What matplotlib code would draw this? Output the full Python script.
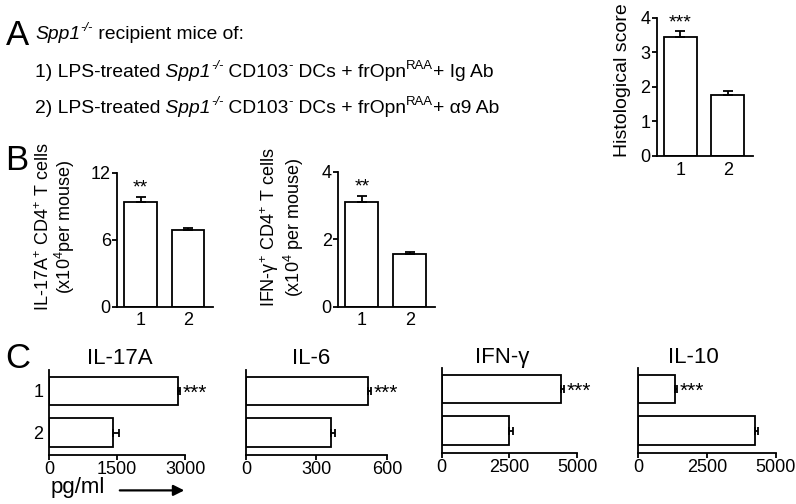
import matplotlib
matplotlib.use("Agg")
import matplotlib.pyplot as plt

output = "out.png"
fz = 13

plt.rcParams['font.family'] = ['Liberation Sans', 'DejaVu Sans']
plt.rcParams['mathtext.fontset'] = 'custom'
plt.rcParams['mathtext.rm'] = 'Liberation Sans'
plt.rcParams['mathtext.it'] = 'Liberation Sans:italic'
plt.rcParams['mathtext.bf'] = 'Liberation Sans:bold'

# data
groups = ['1', '2']

hist_score = [3.45, 1.78]
hist_err = [0.17, 0.10]

il17_cells = [9.4, 6.9]
il17_cells_err = [0.45, 0.15]
ifn_cells = [3.11, 1.57]
ifn_cells_err = [0.18, 0.06]

cyto_names = ['IL-17A', 'IL-6', 'IFN-γ', 'IL-10']
cyto_vals = [[2846, 1412], [519, 362], [4407, 2481], [1340, 4239]]
cyto_errs = [[45, 130], [13, 17], [110, 150], [70, 110]]
cyto_ticks = [[0, 1500, 3000], [0, 300, 600], [0, 2500, 5000], [0, 2500, 5000]]
cyto_stars = ['***', '***', '***', '***']

# (text, italic, superscript)
line1 = [('Spp1', 1, 0), ('-/-', 1, 1), (' recipient mice of:', 0, 0)]
line2 = [('1) LPS-treated', 0, 0), (' Spp1', 1, 0), ('-/-', 1, 1), (' CD103', 0, 0), ('-', 0, 1),
         (' DCs + frOpn', 0, 0), ('RAA', 0, 1), ('+ Ig Ab', 0, 0)]
line3 = [('2) LPS-treated', 0, 0), (' Spp1', 1, 0), ('-/-', 1, 1), (' CD103', 0, 0), ('-', 0, 1),
         (' DCs + frOpn', 0, 0), ('RAA', 0, 1), ('+ α9 Ab', 0, 0)]

lw = 1.3


def rich_line(bg, x, y, pieces, size=13.9):
    t0 = bg.text(x, y, pieces[0][0], fontsize=size, va='bottom', transform=bg.transAxes,
                 style='italic' if pieces[0][1] else 'normal')
    prev = t0
    for s, it, sup in pieces[1:]:
        fs = size
        dy = 0
        if sup:
            fs = size * 0.68
            dy = size * 0.40 + 0.21 * (size - fs)
        prev = bg.annotate(s, xy=(1, 0), xycoords=(prev, t0), xytext=(0, dy),
                           textcoords='offset points', fontsize=fs, va='bottom', ha='left',
                           style='italic' if it else 'normal')


def style_vbar(ax):
    for s in ['top', 'right']:
        ax.spines[s].set_visible(False)
    for s in ['left', 'bottom']:
        ax.spines[s].set_linewidth(lw)
    ax.tick_params(axis='y', length=3.5, width=lw, labelsize=fz, pad=1)
    ax.tick_params(axis='x', length=0, labelsize=fz, pad=4)


def vbars(ax, vals, errs):
    x = range(len(vals))
    ax.bar(x, vals, width=0.69, color='w', edgecolor='k', linewidth=lw)
    ax.errorbar(x, vals, yerr=[[0] * len(errs), errs], fmt='none', ecolor='k',
                elinewidth=lw, capsize=3.6, capthick=lw)
    ax.set_xticks(list(x))
    ax.set_xticklabels(groups)
    ax.set_xlim(-0.5, 1.53)


def draw_a(fig, bg):
    bg.text(0.008, 0.91, 'A', fontsize=25, transform=bg.transAxes)
    rich_line(bg, 0.044, 0.914, line1)
    rich_line(bg, 0.044, 0.839, line2)
    rich_line(bg, 0.044, 0.767, line3)

    ax = fig.add_axes([0.825, 0.6905, 0.1206, 0.274])
    vbars(ax, hist_score, hist_err)
    ax.set_ylim(0, 4)
    ax.set_yticks([0, 1, 2, 3, 4])
    ax.set_ylabel('Histological score', fontsize=14, labelpad=7)
    ax.yaxis.label.set_y(0.55)
    style_vbar(ax)
    ax.annotate('***', (0, hist_score[0] + hist_err[0]), xytext=(0, 0),
                textcoords='offset points', ha='center', va='bottom', fontsize=fz + 1)


def draw_b(fig, bg):
    bg.text(0.006, 0.662, 'B', fontsize=25, transform=bg.transAxes)

    ax = fig.add_axes([0.147, 0.391, 0.1206, 0.266])
    vbars(ax, il17_cells, il17_cells_err)
    ax.set_ylim(0, 12)
    ax.set_yticks([0, 6, 12])
    ax.set_ylabel('IL-17A$^{+}$ CD4$^{+}$ T cells\n(x10$^{4}$per mouse)', fontsize=fz,
                  labelpad=10, linespacing=1.0)
    ax.yaxis.label.set_y(0.6)
    style_vbar(ax)
    ax.annotate('**', (0, il17_cells[0] + il17_cells_err[0]), xytext=(0, 0),
                textcoords='offset points', ha='center', va='bottom', fontsize=fz + 1)

    ax = fig.add_axes([0.4246, 0.391, 0.122, 0.268])
    vbars(ax, ifn_cells, ifn_cells_err)
    ax.set_ylim(0, 4)
    ax.set_yticks([0, 2, 4])
    ax.set_ylabel('IFN-γ$^{+}$ CD4$^{+}$ T cells\n(x10$^{4}$ per mouse)', fontsize=fz,
                  labelpad=11, linespacing=1.05)
    ax.yaxis.label.set_y(0.59)
    style_vbar(ax)
    ax.annotate('**', (0, ifn_cells[0] + ifn_cells_err[0]), xytext=(0, 0),
                textcoords='offset points', ha='center', va='bottom', fontsize=fz + 1)


def draw_c(fig, bg):
    bg.text(0.006, 0.27, 'C', fontsize=25, transform=bg.transAxes)
    rects = [[0.0616, 0.0972, 0.1709, 0.1687],
             [0.309, 0.0972, 0.177, 0.1687],
             [0.555, 0.101, 0.170, 0.1687],
             [0.8015, 0.101, 0.173, 0.1687]]
    title_x = [0.52, 0.46, 0.45, 0.40]
    for i in range(4):
        ax = fig.add_axes(rects[i])
        y = range(2)
        ax.barh(y, cyto_vals[i], height=0.68, color='w', edgecolor='k', linewidth=lw)
        ax.errorbar(cyto_vals[i], y, xerr=[[0, 0], cyto_errs[i]], fmt='none', ecolor='k',
                    elinewidth=lw, capsize=3.2, capthick=lw)
        ax.set_ylim(1.54, -0.5)
        ax.set_xlim(cyto_ticks[i][0], cyto_ticks[i][-1])
        ax.set_xticks(cyto_ticks[i])
        ax.set_yticks(list(y))
        if i == 0:
            ax.set_yticklabels(groups)
        else:
            ax.set_yticklabels([])
        for s in ['top', 'right']:
            ax.spines[s].set_visible(False)
        for s in ['left', 'bottom']:
            ax.spines[s].set_linewidth(lw)
        ax.tick_params(axis='x', length=3.5, width=lw, labelsize=fz, pad=1)
        ax.tick_params(axis='y', length=0, labelsize=fz, pad=4)
        ax.set_title(cyto_names[i], fontsize=16, pad=4, x=title_x[i])
        ax.annotate(cyto_stars[i], (cyto_vals[i][0] + cyto_errs[i][0], 0), xytext=(2, -2),
                    textcoords='offset points', ha='left', va='center', fontsize=fz + 2)

    bg.text(0.063, 0.021, 'pg/ml', fontsize=16, transform=bg.transAxes)
    bg.annotate('', xy=(0.235, 0.027), xytext=(0.147, 0.027), xycoords='axes fraction',
                arrowprops=dict(arrowstyle='-|>', color='k', lw=1.6, mutation_scale=16))


fig = plt.figure(figsize=(7.96, 5.04), dpi=100)
bg = fig.add_axes([0, 0, 1, 1])
bg.axis('off')
draw_a(fig, bg)
draw_b(fig, bg)
draw_c(fig, bg)
plt.savefig(output, dpi=100)
plt.close()
